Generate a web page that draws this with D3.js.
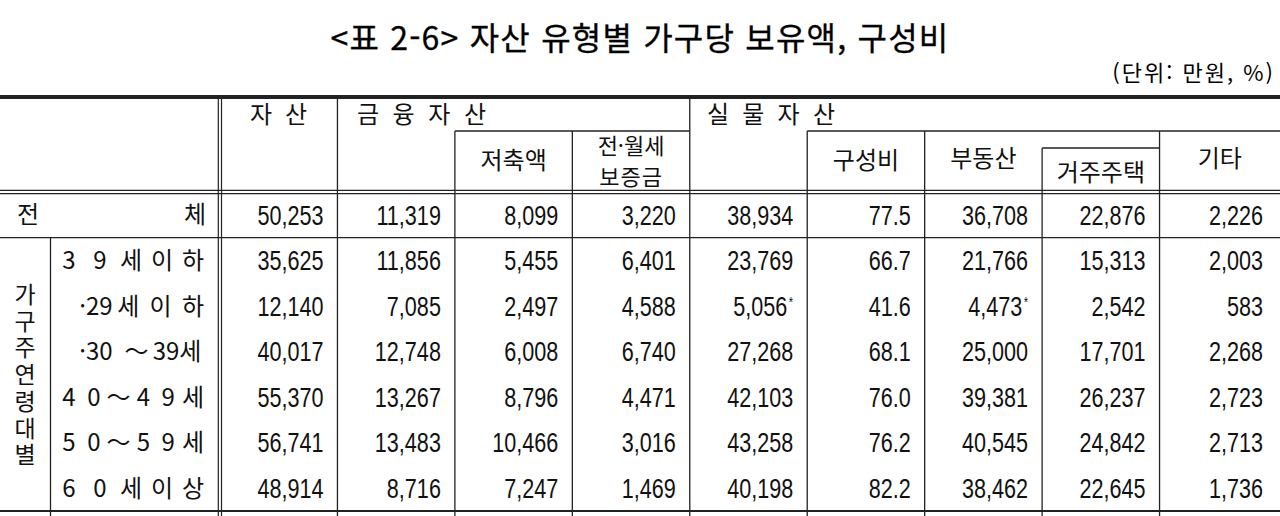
<!DOCTYPE html>
<html lang="ko">
<head>
<meta charset="utf-8">
<script src="https://cdn.jsdelivr.net/npm/d3@7"></script>
<style>
  body { margin: 0; background: #fff; }
  svg { display: block; }
</style>
</head>
<body>
<div id="table"></div>
<script>
// 자산 유형별 가구당 보유액 (만원), 구성비 (%)
const rowLabels = [
    ["전", "체"],
    ["3", "9", "세", "이", "하"],
    ["·29", "세", "이", "하"],
    ["·30", "～", "39세"],
    ["4", "0", "～", "4", "9", "세"],
    ["5", "0", "～", "5", "9", "세"],
    ["6", "0", "세", "이", "상"]
];
const groupLabel = "가구주연령대별";

const columns = ["assets", "financial", "savings", "deposit", "real", "ratio", "realEstate", "residence", "other"];

const assets     = [50253, 35625, 12140, 40017, 55370, 56741, 48914];
const financial  = [11319, 11856, 7085, 12748, 13267, 13483, 8716];
const savings    = [8099, 5455, 2497, 6008, 8796, 10466, 7247];
const deposit    = [3220, 6401, 4588, 6740, 4471, 3016, 1469];
const real       = [38934, 23769, 5056, 27268, 42103, 43258, 40198];
const ratio      = [77.5, 66.7, 41.6, 68.1, 76.0, 76.2, 82.2];
const realEstate = [36708, 21766, 4473, 25000, 39381, 40545, 38462];
const residence  = [22876, 15313, 2542, 17701, 26237, 24842, 22645];
const other      = [2226, 2003, 583, 2268, 2723, 2713, 1736];

// 상대표준오차가 큰 값 (* 표시)
const starred = { real: [2], realEstate: [2] };

const series = { assets, financial, savings, deposit, real, ratio, realEstate, residence, other };

document.addEventListener('DOMContentLoaded', () => {
    const W = 1280, H = 516;
    const KR = "'Noto Sans CJK KR', 'Noto Sans', sans-serif";
    const NUM = "'Liberation Sans', Arial, sans-serif";
    const LINE = "#222";

    const svg = d3.select("#table").append("svg")
        .attr("width", W)
        .attr("height", H);

    const x = d3.scaleBand().domain(columns).range([220, 1277]);
    const y = d3.scaleBand().domain(d3.range(rowLabels.length)).range([192, 511]);
    const rowMid = i => y(i) + y.bandwidth() / 2;
    const colRight = c => x(c) + x.bandwidth();

    const tableTop = 97, subTop = 131, subTop2 = 148, headBottom = 192;

    // title
    svg.append("text")
        .attr("x", W / 2).attr("y", 38).attr("dy", "0.36em")
        .attr("text-anchor", "middle")
        .attr("stroke", "#111").attr("stroke-width", 0.35)
        .style("font-family", KR).style("font-size", "32px").style("letter-spacing", "1.2px")
        .text("<표 2-6> 자산 유형별 가구당 보유액, 구성비");

    svg.append("text")
        .attr("x", 1275).attr("y", 73).attr("dy", "0.36em")
        .attr("text-anchor", "end")
        .style("font-family", KR).style("font-size", "22px").style("letter-spacing", "2px")
        .text("(단위: 만원, %)");

    // lines
    const lines = svg.append("g").attr("stroke", LINE).attr("fill", "none");
    const hline = (y0, x1, x2, w) => lines.append("line")
        .attr("x1", x1).attr("x2", x2).attr("y1", y0).attr("y2", y0).attr("stroke-width", w || 1.3);
    const vline = (x0, y1, y2, w) => lines.append("line")
        .attr("x1", x0).attr("x2", x0).attr("y1", y1).attr("y2", y2).attr("stroke-width", w || 1.3);

    hline(tableTop, 0, W, 4);
    hline(subTop, x("savings"), x("real"));
    hline(subTop, x("ratio"), W);
    hline(subTop2, x("residence"), x("other"));
    hline(headBottom - 1.6, 0, W, 1.2);
    hline(headBottom + 1.6, 0, W, 1.2);
    hline(y(1), 0, W);
    hline(y(rowLabels.length - 1) + y.bandwidth(), 0, W, 2);

    vline(218.3, tableTop, H, 1.2);
    vline(221.5, tableTop, H, 1.2);
    vline(50.5, y(1), H);
    vline(x("financial"), tableTop, H);
    vline(x("savings"), subTop, H);
    vline(x("deposit"), subTop, H);
    vline(x("real"), tableTop, H);
    vline(x("ratio"), subTop, H);
    vline(x("realEstate"), subTop, H);
    vline(x("residence"), subTop2, H);
    vline(x("other"), subTop, H);

    // spread glyph groups evenly between two centre points
    const spread = (g, tokens, x0, x1, cy, size) => {
        const p = d3.scalePoint().domain(d3.range(tokens.length)).range([x0, x1]);
        g.selectAll(null).data(tokens).enter().append("text")
            .attr("x", (d, i) => p(i)).attr("y", cy).attr("dy", "0.36em")
            .attr("text-anchor", "middle")
            .style("font-family", KR).style("font-size", size + "px")
            .text(d => d);
    };

    const head = svg.append("g").attr("fill", "#111");
    spread(head, ["자", "산"], 261, 296, 114, 24);
    spread(head, ["금", "융", "자", "산"], 368, 475, 114, 24);
    spread(head, ["실", "물", "자", "산"], 718, 824, 114, 24);

    const centred = (t, cx, cy) => head.append("text")
        .attr("x", cx).attr("y", cy).attr("dy", "0.36em")
        .attr("text-anchor", "middle")
        .style("font-family", KR).style("font-size", "24px")
        .text(t);
    const mid = c => x(c) + x.bandwidth() / 2;
    centred("저축액", mid("savings"), 160);
    // two-line header
    head.append("text")
        .attr("x", mid("deposit")).attr("y", 146).attr("dy", "0.36em")
        .attr("text-anchor", "middle")
        .style("font-family", KR).style("font-size", "22px")
        .text("전·월세");
    head.append("text")
        .attr("x", mid("deposit")).attr("y", 177).attr("dy", "0.36em")
        .attr("text-anchor", "middle")
        .style("font-family", KR).style("font-size", "22px").style("letter-spacing", "1px")
        .text("보증금");
    centred("구성비", mid("ratio"), 160);
    centred("부동산", mid("realEstate"), 158);
    centred("거주주택", mid("residence"), 172);
    centred("기타", (x("other") + W) / 2, 158);

    // row labels
    const rows = svg.append("g").attr("fill", "#111");
    rowLabels.forEach((tokens, i) => {
        if (i === 0) spread(rows, tokens, 28, 195, rowMid(i), 24);
        else if (tokens[0].length > 1) spread(rows, tokens, 96, tokens.length === 3 ? 177 : 193, rowMid(i), 24);
        else spread(rows, tokens, 69, 193, rowMid(i), 24);
    });
    rows.append("text")
        .attr("x", 25).attr("y", (y(1) + y(rowLabels.length - 1) + y.bandwidth()) / 2 + 2)
        .attr("text-anchor", "middle")
        .style("writing-mode", "vertical-rl")
        .style("font-family", KR).style("font-size", "23px").style("letter-spacing", "3.7px")
        .text(groupLabel);

    // values (narrow face: regular face squeezed horizontally)
    const fmtInt = d3.format(",");
    const fmtPct = d3.format(".1f");
    const cells = svg.append("g").attr("fill", "#111");
    columns.forEach(c => {
        const t = cells.selectAll(null).data(series[c]).enter().append("g")
            .attr("transform", (d, i) => `translate(${colRight(c) - 14},${rowMid(i)}) scale(0.8,1)`)
            .append("text")
            .attr("x", 0).attr("y", 0).attr("dy", "0.36em")
            .attr("text-anchor", "end")
            .style("font-family", NUM).style("font-size", "27px")
            .text(d => c === "ratio" ? fmtPct(d) : fmtInt(d));
        t.filter((d, i) => (starred[c] || []).includes(i))
            .append("tspan")
            .attr("dx", 2).attr("dy", "-0.6em")
            .style("font-size", "14px")
            .text("*");
    });
});
</script>
</body>
</html>
